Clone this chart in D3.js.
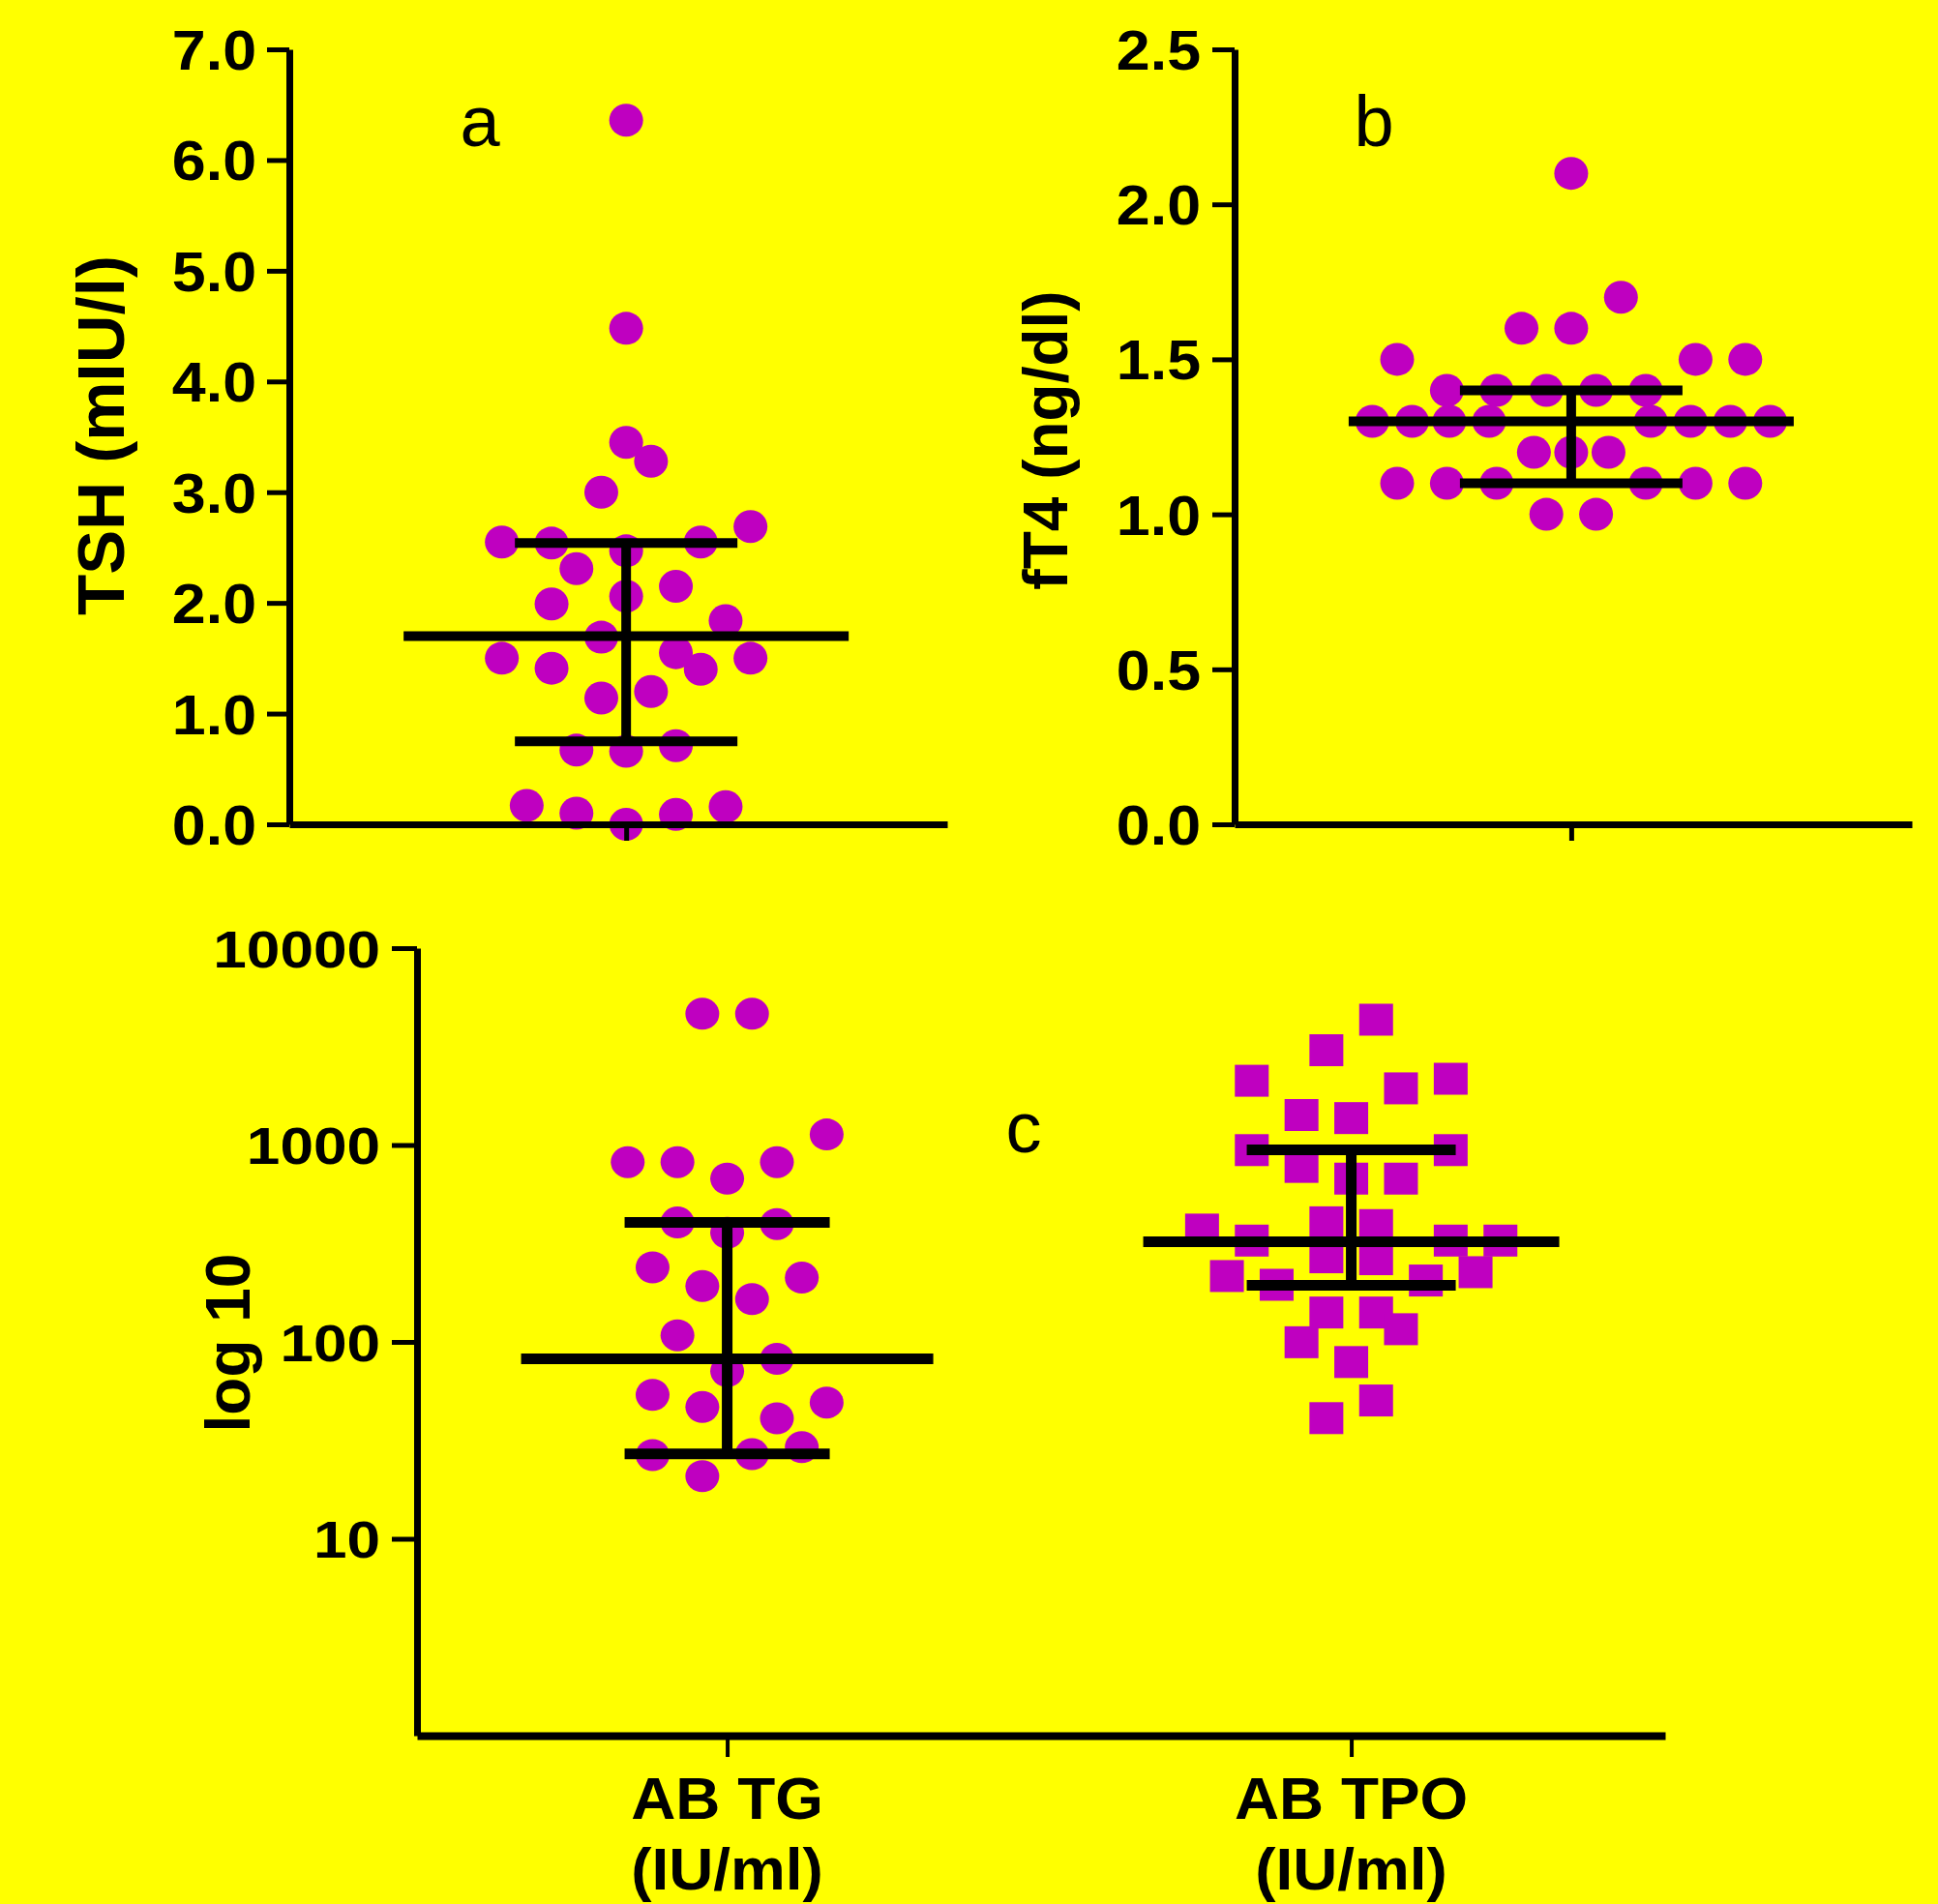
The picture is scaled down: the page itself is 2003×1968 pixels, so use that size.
<!DOCTYPE html>
<html><head><meta charset="utf-8">
<script src="https://cdn.jsdelivr.net/npm/d3@7"></script>
<style>html,body{margin:0;padding:0;background:#ffff00;} svg{display:block;}</style>
</head><body>
<svg id="chart" width="2003" height="1968"></svg>
<script>
// ---------------- data ----------------
// Panel a: TSH (mIU/l)
const tshTickValues = [0, 1, 2, 3, 4, 5, 6, 7];
const tshValues = [6.36, 4.48, 3.45, 3.28, 3.00, 2.69, 2.55, 2.54, 2.47, 2.55, 2.31, 2.15, 1.99, 2.06, 1.84, 1.69,
                   1.50, 1.55, 1.50, 1.41, 1.40, 1.14, 1.20, 0.67, 0.66, 0.71, 0.17, 0.10, 0.00, 0.09, 0.16];
const tshSlots  = [0, 0, 0, 1, -1, 5, -5, -3, 0, 3, -2, 2, -3, 0, 4, -1,
                   -5, 2, 5, -3, 3, -1, 1, -2, 0, 2, -4, -2, 0, 2, 4];
const tshStats  = [0.75, 1.70, 2.54];          // low, mean, high

// Panel b: fT4 (ng/dl)
const ft4TickValues = [0, 0.5, 1.0, 1.5, 2.0, 2.5];
const ft4Values = [2.1, 1.7, 1.6, 1.6, 1.5, 1.5, 1.5, 1.4, 1.4, 1.4, 1.4, 1.4,
                   1.3, 1.3, 1.3, 1.3, 1.3, 1.3, 1.3, 1.3, 1.2, 1.2, 1.2,
                   1.1, 1.1, 1.1, 1.1, 1.1, 1.1, 1.0, 1.0];
const ft4Slots  = [0, 2, -2, 0, -7, 5, 7, -5, -3, -1, 1, 3,
                   -8, -6.4, -4.9, -3.3, 3.2, 4.8, 6.4, 8, -1.5, 0, 1.5,
                   -7, -5, -3, 3, 5, 7, -1, 1];
const ft4Stats  = [1.10, 1.30, 1.40];

// Panel c: antibodies (log scale)
const logTickValues = [10, 100, 1000, 10000];
const abCategories = ["AB TG", "AB TPO"];
const abUnits = ["(IU/ml)", "(IU/ml)"];
const tgValues = [4640, 4640, 1131, 819, 819, 819, 675, 404, 397, 358, 239, 212, 192, 165, 108, 82, 71,
                  53.8, 46.7, 49.2, 40.9, 26.6, 26.9, 29.2, 20.8];
const tgSlots  = [-1, 1, 4, -4, -2, 2, 0, -2, 2, 0, -3, 3, -1, 1, -2, 2, 0,
                  -3, -1, 4, 2, -3, 1, 3, -1];
const tgStats  = [27, 82, 404];
const tpoValues = [4330, 3030, 2120, 2170, 1940, 1420, 1370, 942, 942, 774, 675, 675,
                   372, 405, 392, 327, 327, 327, 269, 263, 216, 226, 195, 205,
                   141, 141, 116, 99.6, 79, 50.4, 41];
const tpoSlots  = [1, -1, -4, 4, 2, -2, 0, -4, 4, -2, 0, 2,
                   -6, -1, 1, -4, 4, 6, -1, 1, -5, 5, -3, 3,
                   -1, 1, 2, -2, 0, 1, -1];
const tpoStats  = [194, 323, 946];

// ---------------- drawing ----------------
const svg = d3.select("#chart");
const FONT = "'Liberation Sans', Arial, Helvetica, sans-serif";
const DOT = "#bf00c0";
svg.append("rect").attr("width", 2003).attr("height", 1968).attr("fill", "#ffff00");

const slotW = d3.scaleLinear().domain([0, 1]).range([0, 25.7]);

function styleAxis(g, w, tw) {
  g.select(".domain").attr("stroke", "#000").attr("stroke-width", w);
  g.selectAll(".tick line").attr("stroke", "#000").attr("stroke-width", tw);
}
function styleTicks(g, size, sx, gap) {
  g.selectAll(".tick text")
    .attr("font-family", FONT).attr("font-weight", "bold").attr("font-size", size)
    .attr("fill", "#000").attr("x", -gap / sx).attr("dy", "0.36em")
    .attr("transform", `scale(${sx},1)`);
}
function errorBar(g, cx, y, stats, half, cap, w) {
  const [lo, mean, hi] = stats;
  g.append("line").attr("x1", cx).attr("x2", cx).attr("y1", y(hi)).attr("y2", y(lo))
    .attr("stroke", "#000").attr("stroke-width", w);
  [[hi, cap], [lo, cap], [mean, half]].forEach(([v, h]) => {
    g.append("line").attr("x1", cx - h).attr("x2", cx + h).attr("y1", y(v)).attr("y2", y(v))
      .attr("stroke", "#000").attr("stroke-width", w);
  });
}
function yLabel(text, x, y, size) {
  svg.append("text").attr("transform", `translate(${x},${y}) rotate(-90)`)
    .attr("text-anchor", "middle").attr("font-family", FONT).attr("font-weight", "bold")
    .attr("font-size", size).attr("fill", "#000").text(text);
}
function panelLetter(text, x, y, size) {
  svg.append("text").attr("x", x).attr("y", y).attr("text-anchor", "middle")
    .attr("font-family", FONT).attr("font-size", size).attr("fill", "#000").text(text);
}

// ---- Panel a ----
{
  const y = d3.scaleLinear().domain([0, 7]).range([852, 51]);
  const x = d3.scalePoint().domain(["TSH"]).range([299, 979]).align(0.512);
  const g = svg.append("g");
  const cx = x("TSH");
  g.selectAll("ellipse").data(tshValues).join("ellipse")
    .attr("cx", (d, i) => cx + slotW(tshSlots[i])).attr("cy", d => y(d))
    .attr("rx", 17.5).attr("ry", 17).attr("fill", DOT);
  errorBar(g, cx, y, tshStats, 230, 115, 10);
  const ax = svg.append("g").attr("transform", "translate(299,0)")
    .call(d3.axisLeft(y).tickValues(tshTickValues).tickFormat(d3.format(".1f")).tickSize(23).tickSizeOuter(0));
  styleAxis(ax, 7, 5); styleTicks(ax, 57, 1.1, 34);
  const bx = svg.append("g").attr("transform", "translate(0,852)")
    .call(d3.axisBottom(x).tickSize(17).tickSizeOuter(0).tickFormat(""));
  styleAxis(bx, 7, 5);
  yLabel("TSH (mIU/l)", 128, 450, 69);
  panelLetter("a", 496, 151, 74);
}

// ---- Panel b ----
{
  const y = d3.scaleLinear().domain([0, 2.5]).range([852, 51]);
  const x = d3.scalePoint().domain(["fT4"]).range([1276, 1976]).align(0.497);
  const g = svg.append("g");
  const cx = x("fT4");
  g.selectAll("ellipse").data(ft4Values).join("ellipse")
    .attr("cx", (d, i) => cx + slotW(ft4Slots[i])).attr("cy", d => y(d))
    .attr("rx", 17.5).attr("ry", 17).attr("fill", DOT);
  errorBar(g, cx, y, ft4Stats, 230, 115, 10);
  const ax = svg.append("g").attr("transform", "translate(1276,0)")
    .call(d3.axisLeft(y).tickValues(ft4TickValues).tickFormat(d3.format(".1f")).tickSize(23).tickSizeOuter(0));
  styleAxis(ax, 7, 5); styleTicks(ax, 57, 1.1, 35);
  const bx = svg.append("g").attr("transform", "translate(0,852)")
    .call(d3.axisBottom(x).tickSize(17).tickSizeOuter(0).tickFormat(""));
  styleAxis(bx, 7, 5);
  yLabel("fT4 (ng/dl)", 1103, 455, 64);
  panelLetter("b", 1420, 151, 74);
}

// ---- Panel c ----
{
  const y = d3.scaleLog().domain([1, 10000]).range([1794, 980]);
  const x = d3.scalePoint().domain(abCategories).range([431, 1721]).padding(0.5).align(0.497);
  const g = svg.append("g");
  const cTG = x(abCategories[0]), cTPO = x(abCategories[1]);
  g.selectAll("ellipse").data(tgValues).join("ellipse")
    .attr("cx", (d, i) => cTG + slotW(tgSlots[i])).attr("cy", d => y(d))
    .attr("rx", 17.5).attr("ry", 16.5).attr("fill", DOT);
  g.selectAll("rect.sq").data(tpoValues).join("rect").attr("class", "sq")
    .attr("x", (d, i) => cTPO + slotW(tpoSlots[i]) - 17.5).attr("y", d => y(d) - 16.5)
    .attr("width", 35).attr("height", 33).attr("fill", DOT);
  errorBar(g, cTG, y, tgStats, 213, 106, 11);
  errorBar(g, cTPO, y, tpoStats, 215, 108, 11);
  const ax = svg.append("g").attr("transform", "translate(431,0)")
    .call(d3.axisLeft(y).tickValues(logTickValues).tickFormat(d3.format("d")).tickSize(26).tickSizeOuter(0));
  styleAxis(ax, 7, 5); styleTicks(ax, 54, 1.15, 38);
  const bx = svg.append("g").attr("transform", "translate(0,1794)")
    .call(d3.axisBottom(x).tickSize(22).tickSizeOuter(0).tickFormat(""));
  styleAxis(bx, 8, 4);
  abCategories.forEach((c, i) => {
    [[c, 1880], [abUnits[i], 1953]].forEach(([t, yy]) => {
      svg.append("text").attr("transform", `translate(${x(c)},${yy}) scale(1.03,1)`)
        .attr("text-anchor", "middle").attr("font-family", FONT).attr("font-weight", "bold")
        .attr("font-size", 62).attr("fill", "#000").text(t);
    });
  });
  yLabel("log 10", 258, 1388, 64);
  panelLetter("c", 1058, 1191, 74);
}
</script>
</body></html>
